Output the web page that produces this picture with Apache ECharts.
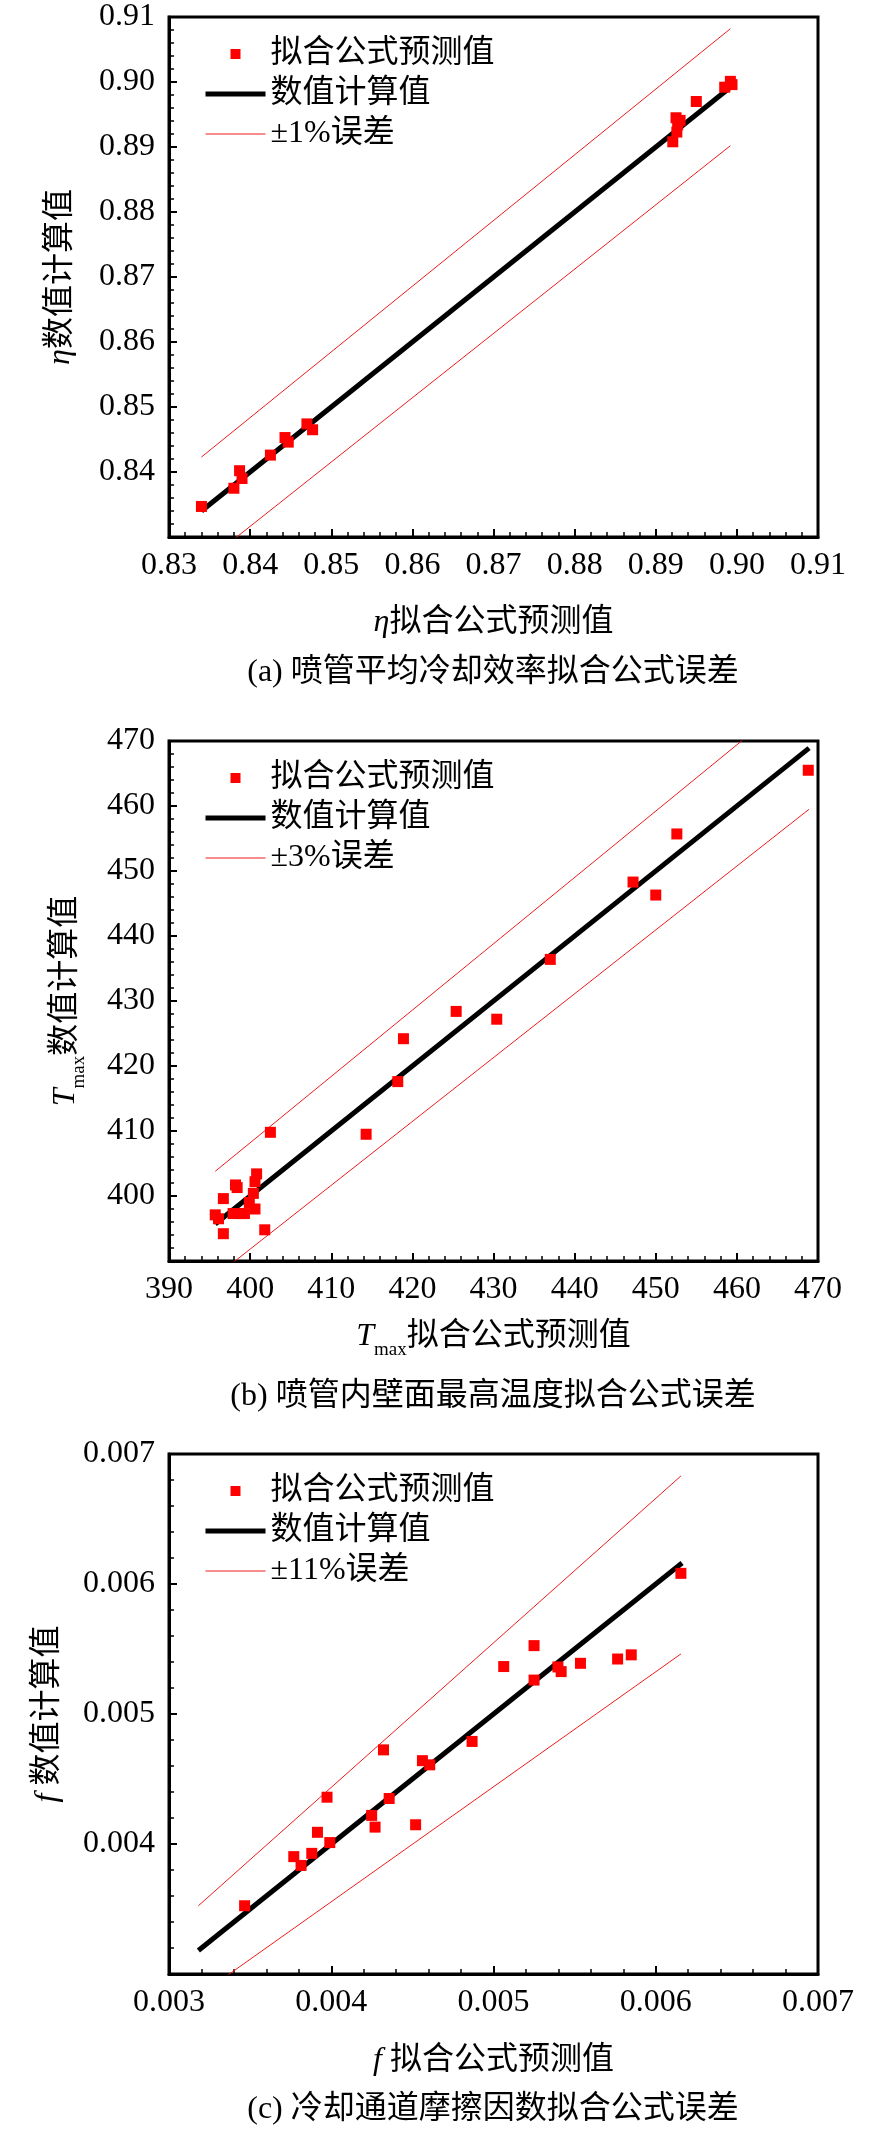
<!DOCTYPE html>
<html>
<head>
<meta charset="utf-8">
<script src="https://cdn.jsdelivr.net/npm/echarts@6/dist/echarts.min.js"></script>
<style>
html,body{margin:0;padding:0;background:#fff;}
#main{width:886px;height:2133px;}
</style>
</head>
<body>
<div id="main"></div>
<script>
// (a) 喷管平均冷却效率
var predA=[0.8340,0.8380,0.8387,0.8390,0.8425,0.8443,0.8447,0.8470,0.8477,0.8921,0.8925,0.8927,0.8926,0.8930,0.8950,0.8985,0.8992,0.8994];
var numA =[0.8347,0.8375,0.8402,0.8390,0.8426,0.8453,0.8446,0.8474,0.8465,0.8908,0.8945,0.8934,0.8923,0.8941,0.8970,0.8992,0.9001,0.8996];
var fitA  =[[0.834,0.834],[0.8992,0.8992]];
var upperA=[[0.834,0.8423],[0.8992,0.9082]];
var lowerA=[[0.834,0.8257],[0.8992,0.8902]];

// (b) 喷管内壁面最高温度
var predB=[468.8,452.6,447.2,450.0,437.0,425.4,430.4,418.9,418.2,414.3,402.5,400.8,400.6,398.2,398.4,400.4,396.7,399.9,400.6,399.3,397.9,398.8,395.7,396.1,396.7,401.8];
var numB =[465.5,455.7,448.3,446.3,436.4,428.4,427.2,424.2,417.6,409.5,409.8,403.4,402.2,401.7,401.3,400.4,399.6,399.0,398.0,397.3,397.3,397.3,397.1,396.5,394.2,394.8];
var fitB  =[[395.7,395.7],[468.9,468.9]];
var upperB=[[395.7,403.8],[468.9,478.5]];
var lowerB=[[395.7,387.6],[468.9,459.5]];

// (c) 冷却通道摩擦因数
var predC=[0.006155,0.005250,0.005250,0.005063,0.005397,0.005417,0.005536,0.005765,0.005849,0.004868,0.004562,0.004607,0.004322,0.004357,0.003974,0.004249,0.004270,0.004520,0.003915,0.003991,0.003880,0.003769,0.003814,0.003466];
var numC =[0.006082,0.005526,0.005261,0.005365,0.005362,0.005326,0.005390,0.005423,0.005455,0.004789,0.004641,0.004609,0.004724,0.004350,0.004360,0.004220,0.004130,0.004148,0.004090,0.004011,0.003928,0.003903,0.003835,0.003525];
var fitC  =[[0.003181,0.003181],[0.006162,0.006162]];
var upperC=[[0.003181,0.003525],[0.006155,0.006831]];
var lowerC=[[0.003181,0.002831],[0.006155,0.005462]];

var errNames=['±1%误差','±3%误差','±11%误差'];
var captions=['(a) 喷管平均冷却效率拟合公式误差','(b) 喷管内壁面最高温度拟合公式误差','(c) 冷却通道摩擦因数拟合公式误差'];
var xNames=['{i|η}拟合公式预测值','{i|T}{s|max}拟合公式预测值','{i|f} 拟合公式预测值'];
var yNames=['{i|η}数值计算值','{i|T}{s|max}数值计算值','{i|f} 数值计算值'];

var FONT="'Liberation Serif','Times New Roman','Noto Sans CJK SC',serif";
var tops=[17,741,1454];
var ranges=[[0.83,0.91,0.01,2],[390,470,10,0],[0.003,0.007,0.001,3]];
var xGaps=[70,53,71], yGaps=[92,80,105];

var rich={
    i:{fontStyle:'italic',fontSize:32,fontFamily:FONT,color:'#000'},
    s:{fontSize:19,fontFamily:FONT,color:'#000',padding:[27,0,0,0]}
};

function pairs(xs,ys){
    return xs.map(function(x,i){return [x,ys[i]];});
}

function axis(i,isX){
    var r=ranges[i];
    return {
        type:'value',gridIndex:i,min:r[0],max:r[1],interval:r[2],
        name:isX?xNames[i]:yNames[i],nameLocation:'middle',
        nameGap:isX?xGaps[i]:yGaps[i],
        nameTextStyle:{fontSize:32,fontFamily:FONT,color:'#000',rich:rich},
        axisLine:{show:true,onZero:false,lineStyle:{color:'#000',width:3}},
        axisTick:{show:true,inside:true,length:8,lineStyle:{color:'#000',width:2}},
        minorTick:{show:true,splitNumber:5,length:5,lineStyle:{color:'#000',width:1.5}},
        splitLine:{show:false},
        axisLabel:{fontSize:32,fontFamily:FONT,color:'#000',margin:isX?13:14,
            showMinLabel:isX,
            formatter:function(v){return v.toFixed(r[3]);}}
    };
}

var grids=[],xAxes=[],yAxes=[],legends=[],series=[],graphics=[];
var sets=[[predA,numA,fitA,upperA,lowerA],[predB,numB,fitB,upperB,lowerB],[predC,numC,fitC,upperC,lowerC]];

for(var i=0;i<3;i++){
    grids.push({left:169,top:tops[i],width:649,height:520,show:true,borderColor:'#000',borderWidth:3,backgroundColor:'transparent'});
    xAxes.push(axis(i,true));
    yAxes.push(axis(i,false));
    var s=sets[i];
    series.push({name:errNames[i],type:'line',xAxisIndex:i,yAxisIndex:i,data:s[3],showSymbol:false,symbol:'none',
        itemStyle:{color:'#ee1c1c'},lineStyle:{color:'#ee1c1c',width:1},z:2});
    series.push({name:errNames[i],type:'line',xAxisIndex:i,yAxisIndex:i,data:s[4],showSymbol:false,symbol:'none',
        itemStyle:{color:'#ee1c1c'},lineStyle:{color:'#ee1c1c',width:1},z:2});
    series.push({name:'数值计算值',type:'line',xAxisIndex:i,yAxisIndex:i,data:s[2],showSymbol:false,symbol:'none',
        itemStyle:{color:'#000'},lineStyle:{color:'#000',width:5},z:3});
    series.push({name:'拟合公式预测值',type:'scatter',xAxisIndex:i,yAxisIndex:i,data:pairs(s[0],s[1]),
        symbol:'rect',symbolSize:11,itemStyle:{color:'#ff0000',opacity:1},z:4});
    legends.push({
        left:198,top:tops[i]+16,orient:'vertical',itemWidth:60,itemHeight:10,itemGap:8,
        selectedMode:false,symbolKeepAspect:true,
        textStyle:{fontSize:32,fontFamily:FONT,color:'#000',padding:[0,0,0,0]},
        data:[
            {name:'拟合公式预测值',icon:'path://M0,0h10v10h-10z',itemStyle:{opacity:1}},
            {name:'数值计算值',itemStyle:{opacity:0},lineStyle:{width:5}},
            {name:errNames[i],itemStyle:{opacity:0},lineStyle:{width:1}}
        ]
    });
    graphics.push({type:'text',x:493,y:tops[i]+656,
        style:{text:captions[i],fontSize:32,fontFamily:FONT,fill:'#000',textAlign:'center',verticalAlign:'middle'}});
}

var chart=echarts.init(document.getElementById('main'));
chart.setOption({
    animation:false,
    backgroundColor:'#fff',
    grid:grids,
    xAxis:xAxes,
    yAxis:yAxes,
    legend:legends,
    series:series,
    graphic:graphics
});
</script>
</body>
</html>
